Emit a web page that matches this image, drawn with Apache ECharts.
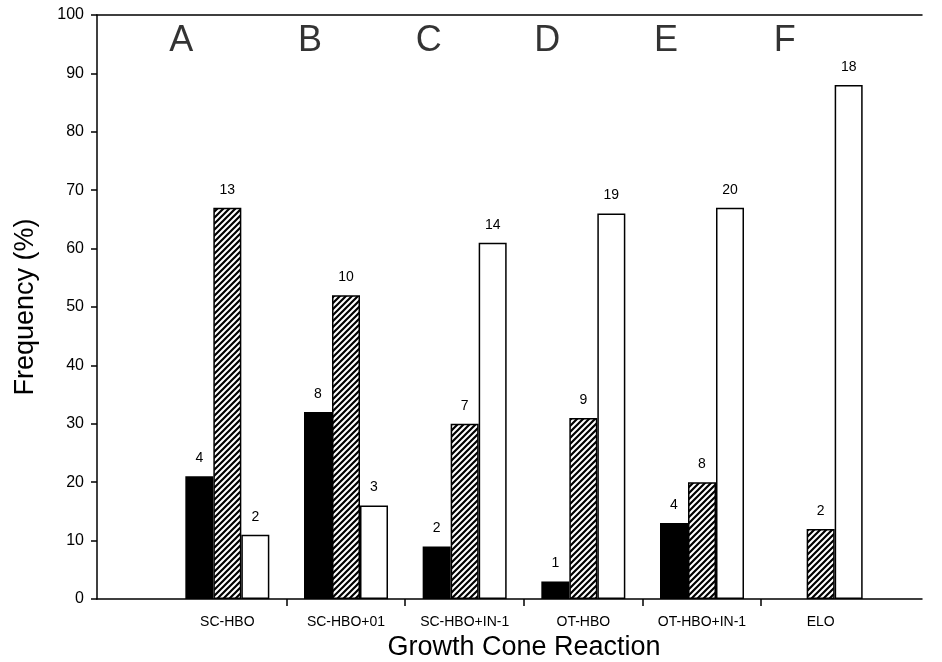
<!DOCTYPE html>
<html>
<head>
<meta charset="utf-8">
<script src="https://cdn.jsdelivr.net/npm/echarts@6/dist/echarts.min.js"></script>
<style>
html, body { margin: 0; padding: 0; background: #fff; }
#chart { width: 942px; height: 662px; }
</style>
</head>
<body>
<div id="chart"></div>
<script>
// data
var categories = ['SC-HBO', 'SC-HBO+01', 'SC-HBO+IN-1', 'OT-HBO', 'OT-HBO+IN-1', 'ELO'];
var panelLetters = ['A', 'B', 'C', 'D', 'E', 'F'];
var blackValues = [21, 32, 9, 3, 13, 0];
var hatchValues = [67, 52, 30, 31, 20, 12];
var whiteValues = [11, 16, 61, 66, 67, 88];
var blackCounts = ['4', '8', '2', '1', '4', ''];
var hatchCounts = ['13', '10', '7', '9', '8', '2'];
var whiteCounts = ['2', '3', '14', '19', '20', '18'];
var yTicks = [0, 10, 20, 30, 40, 50, 60, 70, 80, 90, 100];

// diagonal hatch fill
function makeHatch() {
    var s = 6;
    var c = document.createElement('canvas');
    c.width = s; c.height = s;
    var ctx = c.getContext('2d');
    ctx.fillStyle = '#fff';
    ctx.fillRect(0, 0, s, s);
    ctx.strokeStyle = '#000';
    ctx.lineWidth = 2.2;
    ctx.beginPath();
    ctx.moveTo(0, s); ctx.lineTo(s, 0);
    ctx.moveTo(-1, 1); ctx.lineTo(1, -1);
    ctx.moveTo(s - 1, s + 1); ctx.lineTo(s + 1, s - 1);
    ctx.stroke();
    return c;
}

var font = '"Liberation Sans", Arial, sans-serif';
var chart = echarts.init(document.getElementById('chart'));

function barLabel(counts) {
    return {
        show: true,
        position: 'top',
        distance: 11,
        color: '#000',
        fontFamily: font,
        fontSize: 14,
        formatter: function (p) { return counts[p.dataIndex]; }
    };
}

var option = {
    backgroundColor: '#fff',
    animation: false,
    grid: [
        { left: 97, right: 20, top: 15, bottom: 63, outerBoundsMode: 'none' },
        { left: 168, right: 62, top: 15, bottom: 63, outerBoundsMode: 'none' }
    ],
    xAxis: [
        {
            // frame axis, in category units (category i centred at i)
            gridIndex: 0,
            type: 'value',
            min: -1.095,
            max: 5.856,
            axisLine: { show: true, onZero: false, lineStyle: { color: '#000', width: 1.5 } },
            axisTick: {
                show: true,
                length: 7,
                lineStyle: { color: '#000', width: 1.5 },
                customValues: categories.slice(1).map(function (c, i) { return i + 0.5; })
            },
            axisLabel: { show: false },
            splitLine: { show: false }
        },
        {
            gridIndex: 0,
            type: 'value',
            position: 'top',
            min: 0,
            max: 1,
            axisLine: { show: true, onZero: false, lineStyle: { color: '#000', width: 1.5 } },
            axisTick: { show: false },
            axisLabel: { show: false },
            splitLine: { show: false }
        },
        {
            gridIndex: 1,
            type: 'category',
            data: categories,
            axisLine: { show: false, onZero: false },
            axisTick: { show: false },
            axisLabel: { color: '#000', fontFamily: font, fontSize: 14, margin: 16 },
            name: 'Growth Cone Reaction',
            nameLocation: 'middle',
            nameGap: 25,
            nameTextStyle: { color: '#000', fontFamily: font, fontSize: 27 }
        }
    ],
    yAxis: [
        {
            gridIndex: 0,
            type: 'value',
            min: yTicks[0],
            max: yTicks[yTicks.length - 1],
            interval: yTicks[1] - yTicks[0],
            axisLine: { show: true, onZero: false, lineStyle: { color: '#000', width: 1.5 } },
            axisTick: { show: true, length: 6, lineStyle: { color: '#000', width: 1.5 } },
            axisLabel: { color: '#000', fontFamily: font, fontSize: 16, margin: 13 },
            splitLine: { show: false },
            name: 'Frequency (%)',
            nameLocation: 'middle',
            nameGap: 58,
            nameTextStyle: { color: '#000', fontFamily: font, fontSize: 27 }
        },
        {
            gridIndex: 1,
            type: 'value',
            min: yTicks[0],
            max: yTicks[yTicks.length - 1],
            show: false
        }
    ],
    series: [
        {
            type: 'bar',
            xAxisIndex: 2,
            yAxisIndex: 1,
            barWidth: 28,
            barGap: '0%',
            data: blackValues,
            itemStyle: { color: '#000', borderWidth: 0 },
            label: barLabel(blackCounts)
        },
        {
            type: 'bar',
            xAxisIndex: 2,
            yAxisIndex: 1,
            barWidth: 28,
            barGap: '0%',
            data: hatchValues,
            itemStyle: {
                color: { image: makeHatch(), repeat: 'repeat' },
                borderColor: '#000',
                borderWidth: 1.5
            },
            label: barLabel(hatchCounts)
        },
        {
            type: 'bar',
            xAxisIndex: 2,
            yAxisIndex: 1,
            barWidth: 28,
            barGap: '0%',
            data: whiteValues,
            itemStyle: { color: '#fff', borderColor: '#000', borderWidth: 1.5 },
            label: barLabel(whiteCounts)
        },
        {
            // panel letters along the top
            type: 'scatter',
            xAxisIndex: 2,
            yAxisIndex: 1,
            symbolSize: 0,
            silent: true,
            data: panelLetters.map(function (l, i) {
                return {
                    value: [i, 95.5],
                    label: { offset: [i === 0 ? -46 : -36, 0] }
                };
            }),
            label: {
                show: true,
                position: 'inside',
                color: '#000',
                fontFamily: font,
                fontSize: 36,
                formatter: function (p) { return panelLetters[p.dataIndex]; }
            }
        }
    ]
};
chart.setOption(option);
</script>
</body>
</html>
